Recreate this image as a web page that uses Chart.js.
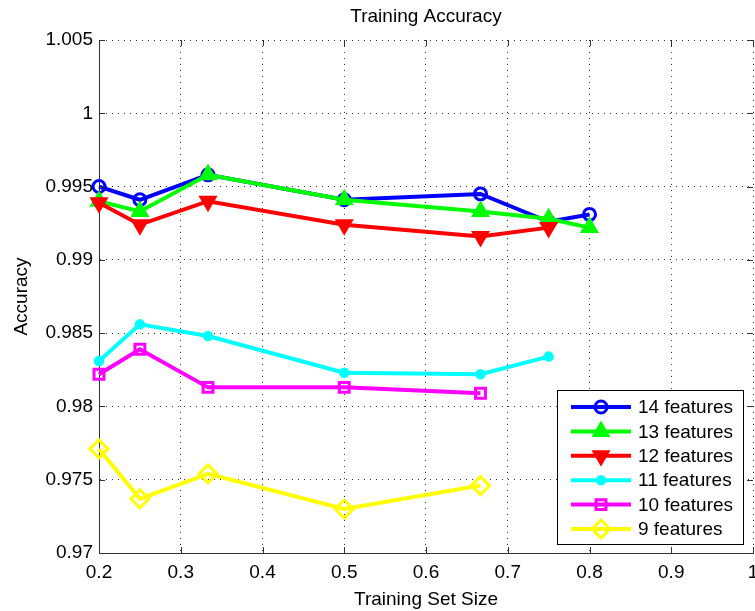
<!DOCTYPE html>
<html>
<head>
<meta charset="utf-8">
<script src="https://cdn.jsdelivr.net/npm/chart.js@4/dist/chart.umd.min.js"></script>
<style>
  html, body { margin: 0; padding: 0; background: #fff; overflow: hidden; }
  #wrap { position: relative; width: 755px; height: 611px; }
  #accChart { display: block; }
</style>
</head>
<body>
<div id="wrap"><canvas id="accChart"></canvas></div>
<script>
// Training set sizes (x values)
const trainSizes = [0.2, 0.25, 1 / 3, 0.5, 2 / 3, 0.75, 0.8];

// Accuracy per feature count
const acc14 = [0.9950, 0.9941, 0.9958, 0.9941, 0.9945, 0.9926, 0.9931];
const acc13 = [0.9940, 0.9933, 0.9958, 0.9941, 0.9933, 0.9928, 0.9922];
const acc12 = [0.9939, 0.9924, 0.9940, 0.9924, 0.9916, 0.9922];
const acc11 = [0.9831, 0.9856, 0.9848, 0.9823, 0.9822, 0.9834];
const acc10 = [0.9822, 0.9839, 0.9813, 0.9813, 0.9809];
const acc9  = [0.9771, 0.9737, 0.9754, 0.9730, 0.9746];

const seriesLabels = ['14 features', '13 features', '12 features', '11 features', '10 features', '9 features'];

// Axis ticks
const xTicks = [0.2, 0.3, 0.4, 0.5, 0.6, 0.7, 0.8, 0.9, 1];
const xTickLabels = ['0.2', '0.3', '0.4', '0.5', '0.6', '0.7', '0.8', '0.9', '1'];
const yTicks = [0.97, 0.975, 0.98, 0.985, 0.99, 0.995, 1, 1.005];
const yTickLabels = ['0.97', '0.975', '0.98', '0.985', '0.99', '0.995', '1', '1.005'];

const FONT = "'Liberation Sans', Arial, Helvetica, sans-serif";

const toPoints = (vals) => vals.map((v, i) => ({ x: trainSizes[i], y: v }));

// marker look for each series (MATLAB style)
const styles = [
  { color: '#0000ff', pointStyle: 'circle',   radius: 6, rotation: 0,   fill: 'rgba(0,0,0,0)', pbw: 3 },
  { color: '#00ff00', pointStyle: 'triangle', radius: 9, rotation: 0,   fill: '#00ff00',       pbw: 2 },
  { color: '#ff0000', pointStyle: 'triangle', radius: 9, rotation: 180, fill: '#ff0000',       pbw: 2 },
  { color: '#00ffff', pointStyle: 'circle',   radius: 4, rotation: 0,   fill: '#00ffff',       pbw: 2.5 },
  { color: '#ff00ff', pointStyle: 'rect',     radius: 7, rotation: 0,   fill: 'rgba(0,0,0,0)', pbw: 3 },
  { color: '#ffff00', pointStyle: 'rectRot',  radius: 9, rotation: 0,   fill: 'rgba(0,0,0,0)', pbw: 3 }
];

const allSeries = [acc14, acc13, acc12, acc11, acc10, acc9];

const datasets = allSeries.map((vals, i) => {
  const s = styles[i];
  return {
    label: seriesLabels[i],
    data: toPoints(vals),
    xAxisID: 'x',
    yAxisID: 'y',
    borderColor: s.color,
    backgroundColor: s.color,
    borderWidth: 4,
    pointStyle: s.pointStyle,
    pointRadius: s.radius,
    pointHoverRadius: s.radius,
    pointRotation: s.rotation,
    pointBackgroundColor: s.fill,
    pointBorderColor: s.color,
    pointBorderWidth: s.pbw,
    tension: 0,
    clip: false,
    // later series are drawn on top, like MATLAB
    order: allSeries.length - i
  };
});

// small inward tick marks on all four sides
const innerTicks = {
  id: 'innerTicks',
  afterDatasetsDraw(chart) {
    const { ctx, chartArea: a, scales } = chart;
    ctx.save();
    ctx.strokeStyle = '#333';
    ctx.lineWidth = 1;
    ctx.beginPath();
    xTicks.forEach(v => {
      const px = Math.round(scales.x.getPixelForValue(v)) + 0.5;
      ctx.moveTo(px, a.bottom); ctx.lineTo(px, a.bottom - 6);
      ctx.moveTo(px, a.top); ctx.lineTo(px, a.top + 6);
    });
    yTicks.forEach(v => {
      const py = Math.round(scales.y.getPixelForValue(v)) + 0.5;
      ctx.moveTo(a.left, py); ctx.lineTo(a.left + 6, py);
      ctx.moveTo(a.right, py); ctx.lineTo(a.right - 6, py);
    });
    ctx.stroke();
    ctx.restore();
  }
};

// legend box inside the plot, lines with markers
const boxLegend = {
  id: 'boxLegend',
  afterDraw(chart) {
    const { ctx, chartArea: a } = chart;
    const w = 186, h = 154;
    const left = a.right - w - 10, top = a.bottom - h - 9;
    ctx.save();
    ctx.fillStyle = '#fff';
    ctx.fillRect(left, top, w, h);
    ctx.strokeStyle = '#000';
    ctx.lineWidth = 1;
    ctx.strokeRect(left + 0.5, top + 0.5, w, h);
    ctx.font = '19px ' + FONT;
    ctx.textBaseline = 'middle';
    ctx.textAlign = 'left';
    chart.data.datasets.forEach((ds, i) => {
      const y = top + 17 + i * 24.4;
      const s = styles[i];
      ctx.strokeStyle = s.color;
      ctx.lineWidth = 4;
      ctx.beginPath();
      ctx.moveTo(left + 14, y);
      ctx.lineTo(left + 74, y);
      ctx.stroke();
      ctx.fillStyle = s.fill;
      ctx.strokeStyle = s.color;
      ctx.lineWidth = s.pbw;
      Chart.helpers.drawPoint(ctx, {
        pointStyle: s.pointStyle, radius: s.radius, rotation: s.rotation, borderWidth: s.pbw
      }, left + 44, y);
      ctx.fillStyle = '#000';
      ctx.fillText(ds.label, left + 81, y + 1);
    });
    ctx.restore();
  }
};

const gridStyle = {
  color: '#333',
  lineWidth: 1,
  drawTicks: false
};

new Chart(document.getElementById('accChart'), {
  type: 'line',
  data: { datasets },
  plugins: [innerTicks, boxLegend],
  options: {
    responsive: true,
    maintainAspectRatio: false,
    animation: false,
    layout: { padding: 0, autoPadding: false },
    plugins: {
      legend: { display: false },
      tooltip: { enabled: false },
      title: { display: false }
    },
    scales: {
      x: {
        type: 'linear',
        min: 0.2,
        max: 1,
        afterBuildTicks: (s) => { s.ticks = xTicks.map(v => ({ value: v })); },
        afterFit: (s) => { s.height = 58; s.paddingLeft = 0; s.paddingRight = 2; },
        ticks: {
          color: '#000',
          padding: 8,
          font: { family: FONT, size: 19 },
          callback: (v, i) => xTickLabels[i]
        },
        grid: gridStyle,
        border: { display: true, color: '#333', width: 1, dash: [1, 5] },
        title: {
          display: true,
          text: 'Training Set Size',
          color: '#000',
          font: { family: FONT, size: 19 },
          padding: { top: 0, bottom: 0 }
        }
      },
      // top axis only carries the chart title, centred over the plot like MATLAB
      xTop: {
        type: 'linear',
        position: 'top',
        min: 0.2,
        max: 1,
        afterFit: (s) => { s.height = 40; s.paddingLeft = 0; s.paddingRight = 0; },
        ticks: { display: false },
        grid: { display: false },
        border: { display: false },
        title: {
          display: true,
          text: 'Training Accuracy',
          color: '#000',
          font: { family: FONT, size: 19 },
          padding: { top: 5, bottom: 0 }
        }
      },
      y: {
        type: 'linear',
        min: 0.97,
        max: 1.005,
        afterBuildTicks: (s) => { s.ticks = yTicks.map(v => ({ value: v })); },
        afterFit: (s) => { s.width = 99; },
        ticks: {
          color: '#000',
          padding: 6,
          font: { family: FONT, size: 19 },
          callback: (v, i) => yTickLabels[i]
        },
        grid: gridStyle,
        border: { display: true, color: '#333', width: 1, dash: [1, 5] },
        title: {
          display: true,
          text: 'Accuracy',
          color: '#000',
          font: { family: FONT, size: 19 },
          padding: { top: 10, bottom: 0 }
        }
      }
    }
  }
});
</script>
</body>
</html>
